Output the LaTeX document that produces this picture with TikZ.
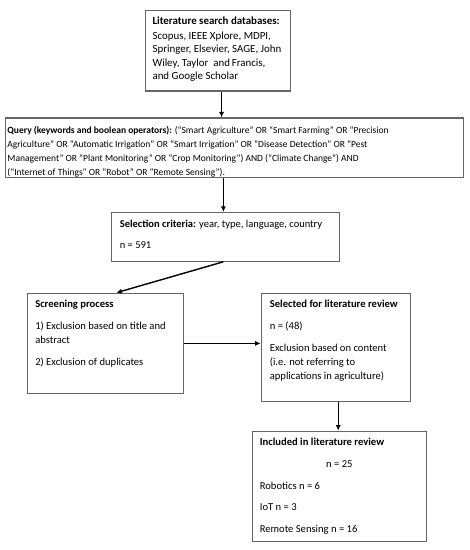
\documentclass[tikz,border=0pt]{standalone}
\usepackage{fontspec}
\setmainfont{Carlito}
\usetikzlibrary{arrows.meta}
\newcommand{\pgap}{\\[7.7bp]}
\newcommand{\bxc}[3]{\begin{minipage}[t][#2][t]{#1}\strut#3\end{minipage}}
\tikzset{
  box/.style={draw=black!60, line width=1.1bp, fill=white, anchor=north west, inner ysep=4.7bp, inner xsep=8bp, align=left, font=\fontsize{10.6bp}{14bp}\selectfont},
  arr/.style={draw=black, line width=1.4bp, -{Latex[length=5.5bp,width=5bp]}}
}
\begin{document}
\begin{tikzpicture}[x=1bp,y=-1bp]
\useasboundingbox (0,0) rectangle (470,550);
% Box 1
\node[box, inner xsep=7bp, inner ysep=5bp, font=\fontsize{10.9bp}{13.5bp}\selectfont] (b1) at (145,10)
  {\bxc{131bp}{70.5bp}{\vspace*{1bp}\textbf{Literature search databases:}\\Scopus, IEEE Xplore, MDPI,\\Springer, Elsevier, SAGE, John\\Wiley, Taylor\ \ and\,Francis,\\and Google Scholar}};
% Box 2
\node[box, inner xsep=2.2bp, inner ysep=5.8bp, font=\fontsize{9.5bp}{14bp}\selectfont] (b2) at (4.7,117.5)
  {\bxc{454bp}{47.6bp}{\textbf{Query (keywords and boolean operators):} (“Smart Agriculture” OR “Smart Farming” OR “Precision\\Agriculture” OR “Automatic Irrigation” OR “Smart Irrigation” OR “Disease Detection” OR “Pest\\Management” OR “Plant Monitoring” OR “Crop Monitoring”) AND (“Climate Change”) AND\\(“Internet of Things” OR “Robot” OR “Remote Sensing”).}};
% Box 3
\node[box, inner xsep=8.6bp, font=\fontsize{10.5bp}{14bp}\selectfont] (b3) at (110.7,212)
  {\bxc{211bp}{39.3bp}{\textbf{Selection criteria:} year, type, language, country\pgap n = 591}};
% Box 4
\node[box, inner xsep=8bp, inner ysep=4.6bp] (b4) at (26.7,292.7)
  {\bxc{140.3bp}{91.1bp}{\textbf{Screening process}\pgap 1) Exclusion based on title and\\abstract\pgap 2) Exclusion of duplicates}};
% Box 5
\node[box, inner xsep=8.6bp, inner ysep=4.6bp] (b5) at (260.7,293)
  {\bxc{132.1bp}{98.5bp}{\textbf{Selected for literature review}\pgap n = (48)\pgap Exclusion based on content\\(i.e. not referring to\\applications in agriculture)}};
% Box 6
\node[box, inner xsep=7.6bp, inner ysep=4.8bp] (b6) at (251.7,430.7)
  {\bxc{159.1bp}{100.4bp}{\textbf{Included in literature review}\pgap \hspace*{\fill}n = 25\hspace*{\fill}\pgap Robotics n = 6\pgap IoT n = 3\pgap Remote Sensing n = 16}};
% Connectors
\draw[arr] ([xshift=3.5bp]b1.south) -- ([xshift=3.5bp]b1.south |- b2.north);
\draw[arr] ([xshift=-2bp]b3.north |- b2.south) -- ([xshift=-2bp]b3.north);
\draw[arr] ([xshift=-2bp]b3.south) -- ([xshift=11bp]b4.north);
\draw[arr] (b4.east) -- (b4.east -| b5.west);
\draw[arr] ([xshift=2.3bp]b5.south) -- ([xshift=2.3bp]b5.south |- b6.north);
\end{tikzpicture}
\end{document}
